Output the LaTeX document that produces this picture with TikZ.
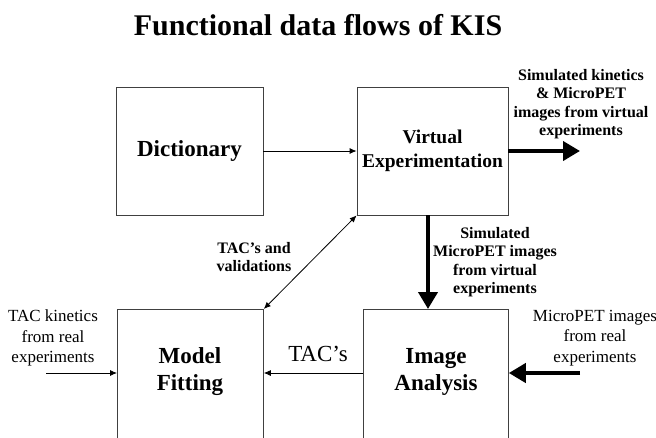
\documentclass[tikz,border=0pt]{standalone}
\usepackage{fontspec}
\setmainfont{Liberation Serif}
\usetikzlibrary{arrows.meta}
\tikzset{
  box/.style={draw=black!75, line width=0.8pt, minimum width=147pt, minimum height=128pt, inner sep=0pt},
  boxtext/.style={font=\fontsize{23}{27}\selectfont\bfseries, align=center},
  note/.style={font=\fontsize{16}{18.5}\selectfont\bfseries, align=center},
  plain/.style={font=\fontsize{17}{20.5}\selectfont, align=center},
  thin/.style={-{Latex[length=7pt,width=6pt]}, line width=0.8pt},
  thick/.style={-{Triangle[length=17pt,width=19pt]}, line width=4pt},
}
\begin{document}
\begin{tikzpicture}[x=1pt,y=-1pt]
\useasboundingbox (0,0) rectangle (656,437);
\clip (0,0) rectangle (656,437);

\node[font=\fontsize{30}{34}\selectfont\bfseries] (title) at (318,25) {Functional data flows of KIS};

% boxes
\node[box, boxtext] (dict) at (189.5,151) {Dictionary};
\node[box, boxtext, minimum width=151pt, font=\fontsize{19.5}{24}\selectfont\bfseries] (ve) at (432.5,151) {Virtual\\Experimentation};
\node[box, minimum width=146pt, minimum height=160pt, anchor=north west] (mf) at (117,309) {};
\node[boxtext] (mftext) at (190,372) {Model\\Fitting};
\node[box, minimum width=145pt, minimum height=160pt, anchor=north west] (ia) at (363,309) {};
\node[boxtext] (iatext) at (436,372) {Image\\Analysis};

% free ends
\coordinate (veout) at (580,151);
\coordinate (down) at (428,0);
\coordinate (tacin) at (46,373);
\coordinate (petin) at (580,373);

% connectors
\draw[thin] (dict) -- (ve);
\draw[thick] (ve.east) -- (veout);
\draw[thick] (ve.south -| down) -- (ia.north -| down);
\draw[thin] (ia.west |- tacin) -- (mf.east |- tacin);
\draw[thin] (tacin) -- (mf.west |- tacin);
\draw[thick] (petin) -- (ia.east |- petin);
\draw[thin, {Latex[length=7pt,width=6pt]}-{Latex[length=7pt,width=6pt]}] (mf.north east) -- (ve.south west);

% labels
\node[note] (simkin) at (581,104) {Simulated kinetics\\\& MicroPET\\images from virtual\\experiments};
\node[note] (simpet) at (495,262) {Simulated\\MicroPET images\\from virtual\\experiments};
\node[note] (tacval) at (254,257) {TAC’s and\\validations};
\node[font=\fontsize{23}{27}\selectfont] (tacs) at (318,354) {TAC’s};
\node[plain] (tackin) at (53,338) {TAC kinetics\\from real\\experiments};
\node[plain] (petreal) at (595,338) {MicroPET images\\from real\\experiments};
\end{tikzpicture}
\end{document}
